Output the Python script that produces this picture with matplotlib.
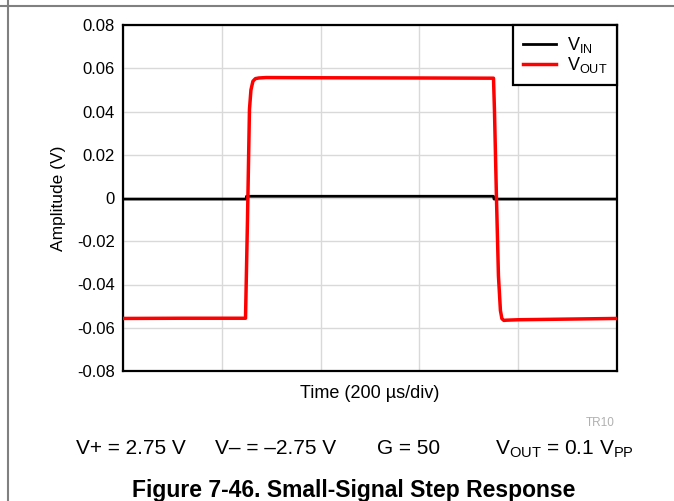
import matplotlib.pyplot as plt
from matplotlib.lines import Line2D

plt.rcParams['font.family'] = ['Liberation Sans', 'DejaVu Sans']
plt.rcParams['mathtext.fontset'] = 'custom'
plt.rcParams['mathtext.rm'] = 'Liberation Sans'
plt.rcParams['mathtext.it'] = 'Liberation Sans:italic'

# time in microseconds (200 us/div, 5 divisions)
t_vin = [0, 249, 250, 750, 751, 1000]
vin = [-0.0005, -0.0005, 0.0008, 0.0008, -0.0005, -0.0005]

t_vout = [0, 120, 248, 252, 256, 259, 263, 268, 275, 290, 400, 600, 750,
          752, 756, 760, 764, 767, 771, 776, 800, 900, 1000]
vout = [-0.0557, -0.0556, -0.0556, -0.010, 0.041, 0.050, 0.054, 0.0552, 0.0555,
        0.0557, 0.0556, 0.0555, 0.0554, 0.040, 0.0, -0.036, -0.052, -0.0558,
        -0.0566, -0.0565, -0.0563, -0.0560, -0.0557]

y_ticks = [-0.08, -0.06, -0.04, -0.02, 0, 0.02, 0.04, 0.06, 0.08]
y_labels = ['-0.08', '-0.06', '-0.04', '-0.02', '0', '0.02', '0.04', '0.06', '0.08']
x_grid = [0, 200, 400, 600, 800, 1000]

fig = plt.figure(figsize=(6.74, 5.01), dpi=100)
ax = fig.add_axes([123 / 674, 1 - 371 / 501, 494 / 674, 346 / 501])

ax.plot(t_vin, vin, color='black', lw=2, label=r'V$_{\mathrm{IN}}$', zorder=3)
ax.plot(t_vout, vout, color='#ff0000', lw=2.5, label=r'V$_{\mathrm{OUT}}$', zorder=4)

ax.set_xlim(0, 1000)
ax.set_ylim(-0.08, 0.08)
ax.set_xticks(x_grid)
ax.set_xticklabels([])
ax.set_yticks(y_ticks)
ax.set_yticklabels(y_labels, fontsize=12)
ax.tick_params(length=0, pad=6)
ax.grid(True, color='#d9d9d9', lw=1)
ax.set_axisbelow(True)
for s in ax.spines.values():
    s.set_linewidth(1.6)
    s.set_color('black')

ax.set_ylabel('Amplitude (V)', fontsize=12.5, labelpad=8)
ax.set_xlabel('Time (200 µs/div)', fontsize=13, labelpad=4)

leg = ax.legend(loc='upper right', borderaxespad=0, fancybox=False, framealpha=1,
                edgecolor='black', fontsize=13, handlelength=1.8, borderpad=0.55,
                labelspacing=0.0, handletextpad=0.6)
leg.get_frame().set_linewidth(1.6)

fig.text(615 / 674, 1 - 423 / 501, 'TR10', color='#b0b0b0', fontsize=8.5,
         ha='right', va='center')

cond_y = 1 - 449 / 501
fig.text(76 / 674, cond_y, 'V+ = 2.75 V', fontsize=15, va='center')
fig.text(215 / 674, cond_y, 'V– = –2.75 V', fontsize=15, va='center')
fig.text(377 / 674, cond_y, 'G = 50', fontsize=15, va='center')
fig.text(495 / 674, cond_y, r'V$_{\mathrm{OUT}}$ = 0.1 V$_{\mathrm{PP}}$', fontsize=15, va='center')

fig.text(354 / 674, 1 - 490 / 501, 'Figure 7-46. Small-Signal Step Response',
         fontsize=16.5, fontweight='bold', ha='center', va='center')

# page frame lines
fig.add_artist(Line2D([0, 1], [1 - 6 / 501, 1 - 6 / 501], color='#808080', lw=1.5,
                      transform=fig.transFigure))
fig.add_artist(Line2D([8 / 674, 8 / 674], [0, 1], color='#808080', lw=1.5,
                      transform=fig.transFigure))

plt.savefig('out.png', dpi=100)
